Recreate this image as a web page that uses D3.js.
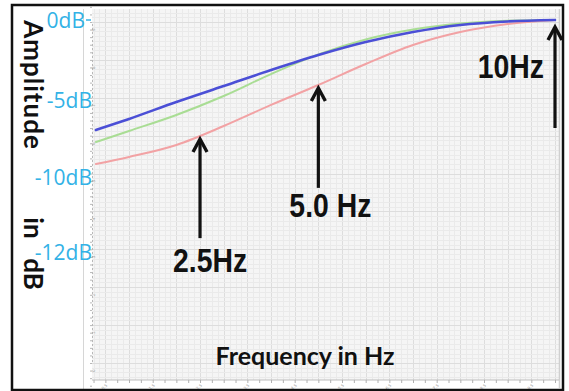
<!DOCTYPE html>
<html><head><meta charset="utf-8">
<script src="https://cdn.jsdelivr.net/npm/d3@7"></script>
<style>html,body{margin:0;padding:0;background:#fff;}svg{display:block}</style>
</head><body><script>
// Frequency samples (Hz) and the three amplitude responses (dB)
const freqHz   = [0.3, 1, 2, 3, 4, 5, 6, 7, 8, 9, 10];
const blueDb   = [-6.95, -6.23, -5.13, -4.13, -3.13, -2.19, -1.38, -0.75, -0.31, -0.09, 0];
const greenDb  = [-7.73, -7.01, -5.97, -4.75, -3.38, -2.15, -1.22, -0.60, -0.22, -0.05, 0];
const redDb    = [-9.16, -8.70, -7.92, -6.69, -5.32, -4.06, -2.75, -1.56, -0.75, -0.25, 0];

// Amplitude axis ticks
const yTickDb     = [0, -5, -10, -12];
const yTickLabels = ["0dB", "-5dB", "-10dB", "-12dB"];

// Frequency markers
const arrowHz     = [2.5, 5.0, 10];
const arrowLabels = ["2.5Hz", "5.0 Hz", "10Hz"];
const arrowTipDb  = [-7.53, -4.25, -0.44];
const arrowTailDb = [-11.63, -10.29, -6.82];

// Small ruler ticks along both axes
const freqRulerTicks = d3.range(0.5, 10.01, 0.5);
const freqRulerLabels = freqRulerTicks.filter(v => v % 1 !== 0);

const W = 569, H = 391;
const plot = {left: 92, right: 559, top: 9, bottom: 380};

const svg = d3.select("body").append("svg").attr("width", W).attr("height", H);

const x = d3.scaleLinear().domain([0, 10]).range([81.7, 555]);
const y = d3.scaleLinear().domain([0, -5, -10, -12]).range([20, 100, 177, 252]);
const ruler = d3.scaleLinear().domain([0, 9]).range([363, 22]);

// plot background
svg.append("rect").attr("x", plot.left).attr("y", plot.top)
  .attr("width", plot.right - plot.left).attr("height", plot.bottom - plot.top)
  .attr("fill", "#f5f5f5");

// fine grid
const grid = svg.append("g").attr("shape-rendering", "crispEdges");
const vGrid = d3.range(0.25, 10.1, 0.125).filter(v => x(v) > plot.left && x(v) < plot.right);
grid.selectAll(".vg").data(vGrid).join("line")
  .attr("x1", d => Math.round(x(d)) + 0.5).attr("x2", d => Math.round(x(d)) + 0.5)
  .attr("y1", plot.top).attr("y2", plot.bottom)
  .attr("stroke", d => (Math.abs(d * 2 - Math.round(d * 2)) < 1e-6) ? "#dddddd" : "#eaeaea")
  .attr("stroke-width", 1);
const hGrid = d3.range(-1.5, 9.5, 0.125).filter(v => ruler(v) > plot.top && ruler(v) < plot.bottom);
grid.selectAll(".hg").data(hGrid).join("line")
  .attr("y1", d => Math.round(ruler(d)) + 0.5).attr("y2", d => Math.round(ruler(d)) + 0.5)
  .attr("x1", plot.left).attr("x2", plot.right)
  .attr("stroke", d => (Math.abs(d - Math.round(d)) < 1e-6) ? "#dddddd" : "#eaeaea")
  .attr("stroke-width", 1);

// plot frame lines
svg.append("line").attr("x1", 83.5).attr("x2", 83.5).attr("y1", plot.top).attr("y2", H)
  .attr("stroke", "#d6d6d6").attr("stroke-width", 1);
svg.append("line").attr("x1", plot.right + 0.5).attr("x2", plot.right + 0.5).attr("y1", plot.top).attr("y2", plot.bottom + 8)
  .attr("stroke", "#cfcfcf").attr("stroke-width", 1.5);

// left ruler (dotted axis)
const leftAxis = svg.append("g").attr("transform", `translate(${plot.left},0)`)
  .call(d3.axisLeft(ruler).tickValues(d3.range(-1.4, 9.5, 0.2)).tickSize(2).tickFormat(""));
leftAxis.select(".domain").attr("stroke", "#b8b8b8").attr("stroke-dasharray", "2,2");
leftAxis.selectAll(".tick line").attr("stroke", "#b8b8b8");
svg.append("g").selectAll("text").data(d3.range(0, 10)).join("text")
  .attr("transform", d => `translate(${plot.left + 2.5},${ruler(d) + 9}) rotate(-90)`)
  .attr("text-anchor", "start").attr("font-size", 4).attr("fill", "#a0a0a0")
  .attr("font-family", "DejaVu Sans").text(d => d);

// bottom ruler
const bottomAxis = svg.append("g").attr("transform", `translate(0,${plot.bottom})`)
  .call(d3.axisBottom(x).tickValues(freqRulerTicks.concat(d3.range(0.25, 10, 0.5))).tickSize(3).tickFormat(""));
bottomAxis.select(".domain").attr("stroke", "#bdbdbd").attr("d", `M${plot.left},0H${plot.right}`);
bottomAxis.selectAll(".tick line").attr("stroke", "#b0b0b0");
svg.append("g").selectAll("text").data(freqRulerLabels).join("text")
  .attr("transform", d => `translate(${x(d)},${plot.bottom + 8}) rotate(-40)`)
  .attr("text-anchor", "middle").attr("font-size", 4).attr("fill", "#999")
  .attr("font-family", "DejaVu Sans").text(d => d);

// amplitude tick labels
svg.append("g").selectAll("text").data(yTickDb).join("text")
  .attr("x", (d, i) => i === 0 ? 85 : 92).attr("y", d => y(d))
  .attr("dy", "0.36em").attr("text-anchor", "end")
  .attr("font-family", "Open Sans, DejaVu Sans, sans-serif").attr("font-size", 21)
  .attr("fill", "#33b2e6").text((d, i) => yTickLabels[i]);
svg.append("line").attr("x1", 86).attr("x2", 91).attr("y1", y(0)).attr("y2", y(0))
  .attr("stroke", "#33b2e6").attr("stroke-width", 1.5);

// response curves
const line = d3.line().x(d => x(d[0])).y(d => y(d[1])).curve(d3.curveMonotoneX);
const curves = [
  {values: greenDb, color: "#a9dd94", width: 2},
  {values: redDb,   color: "#f2a2a4", width: 2},
  {values: blueDb,  color: "#4b4fd6", width: 2.6}
];
svg.append("g").selectAll("path").data(curves).join("path")
  .attr("d", c => line(freqHz.map((f, i) => [f, c.values[i]])))
  .attr("fill", "none").attr("stroke", c => c.color).attr("stroke-width", c => c.width)
  .attr("stroke-linecap", "round");

// frequency arrows
const labelPlacement = [
  {dx: 10, dy: 34, anchor: "middle"},
  {dx: 12, dy: 29, anchor: "middle"},
  {dx: -11, dy: -50, anchor: "end"}
];
const arrows = svg.append("g");
arrowHz.forEach((f, i) => {
  const ax = x(f), tip = y(arrowTipDb[i]), tail = y(arrowTailDb[i]);
  arrows.append("line").attr("x1", ax).attr("x2", ax).attr("y1", tail).attr("y2", tip + 2)
    .attr("stroke", "#111").attr("stroke-width", 3.2);
  arrows.append("path").attr("d", `M${ax - 7},${tip + 13}L${ax},${tip}L${ax + 7},${tip + 13}`)
    .attr("fill", "none").attr("stroke", "#111").attr("stroke-width", 3.4)
    .attr("stroke-linejoin", "miter");
  const p = labelPlacement[i];
  arrows.append("text")
    .attr("transform", `translate(${ax + p.dx},${tail + p.dy}) scale(0.86,1)`)
    .attr("text-anchor", p.anchor)
    .attr("font-family", "Liberation Sans, Arial, sans-serif")
    .attr("font-weight", "bold").attr("font-size", 33).attr("fill", "#111")
    .text(arrowLabels[i]);
});

// axis titles
const titleFont = "Lato, Open Sans, sans-serif";
const yTitle = svg.append("g").attr("font-family", titleFont).attr("font-weight", "bold")
  .attr("font-size", 26).attr("fill", "#111");
[["Amplitude", 85], ["in", 228], ["dB", 274]].forEach(([t, cy]) => {
  yTitle.append("text").attr("transform", `translate(24,${cy}) rotate(90)`)
    .attr("text-anchor", "middle").attr("letter-spacing", t === "Amplitude" ? 1 : 0).text(t);
});
svg.append("text").attr("x", 305).attr("y", 365).attr("text-anchor", "middle")
  .attr("font-family", titleFont).attr("font-weight", "bold").attr("font-size", 25)
  .attr("fill", "#111").text("Frequency in Hz");

// outer frame
svg.append("rect").attr("x", 12).attr("y", 5).attr("width", 551).attr("height", 385)
  .attr("fill", "none").attr("stroke", "#111").attr("stroke-width", 2.5);
</script></body></html>
